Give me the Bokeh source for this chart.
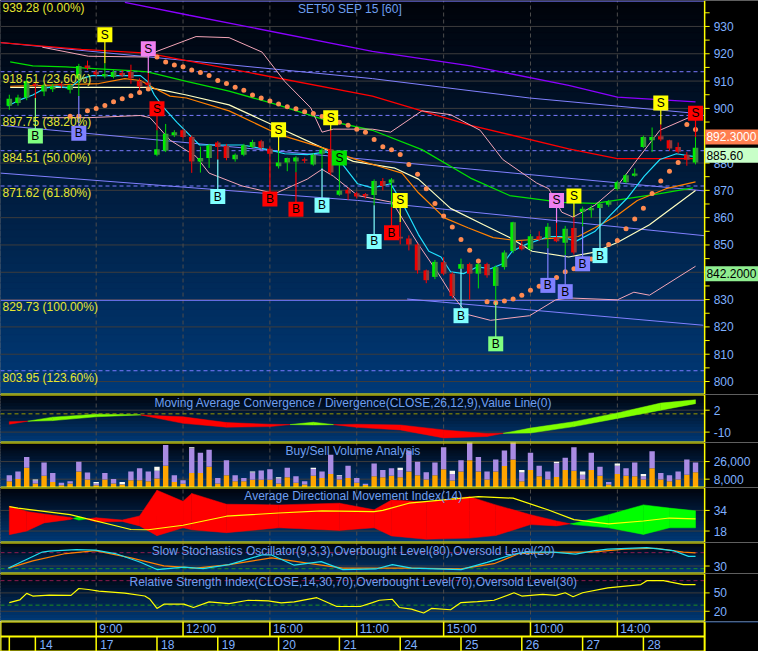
import numpy as np
from bokeh.plotting import figure
from bokeh.layouts import column
from bokeh.models import Range1d
from bokeh.core.properties import value
from bokeh.embed import file_html
from bokeh.resources import INLINE

# ------------------------------------------------------------------ data
bars = list(range(80))
opens = [901.0,902.0,904.0,909.0,906.2,907.0,909.0,906.8,911.0,915.7,
 913.4,911.8,911.5,913.0,913.3,910.0,909.5,883.0,884.5,890.2,
 892.0,889.5,880.6,881.8,887.5,886.2,881.4,883.0,885.9,888.0,
 885.2,878.8,880.2,880.6,881.4,879.5,883.4,885.0,868.4,870.2,
 868.9,868.7,868.3,873.4,872.8,853.0,852.4,850.2,840.7,838.3,
 843.7,839.5,841.3,843.0,839.5,843.0,835.0,841.9,847.8,849.8,
 848.4,853.2,852.6,852.8,850.8,856.2,862.1,862.7,863.5,864.7,
 870.5,873.0,875.3,885.9,888.3,889.8,888.3,885.9,883.0,880.2]
highs = [905.0,905.0,911.0,909.5,909.0,909.0,909.5,909.0,916.3,917.5,
 914.0,916.5,914.0,914.0,916.0,911.0,913.0,892.0,894.3,892.0,
 892.5,890.0,886.0,887.0,888.0,887.0,883.5,887.0,888.5,888.5,
 886.0,884.5,882.0,882.5,882.0,883.5,885.5,892.0,873.4,871.0,
 869.5,869.0,874.0,874.5,874.5,858.4,853.5,850.5,841.0,844.5,
 845.5,840.0,845.0,843.5,843.5,843.5,842.5,848.0,858.5,851.5,
 854.0,855.0,858.0,858.1,857.0,860.2,864.0,864.5,865.5,866.5,
 873.5,876.0,878.0,890.0,893.0,894.1,888.5,887.5,884.0,889.5]
lows = [899.5,901.0,903.0,903.8,904.5,906.0,907.5,905.5,904.5,914.0,
 911.8,911.0,911.0,911.5,909.0,905.0,907.0,882.5,884.0,889.5,
 889.0,876.4,876.5,878.2,881.3,881.0,880.5,882.5,885.5,885.0,
 880.9,878.0,877.0,876.6,880.0,879.0,878.1,875.5,868.0,866.5,
 867.0,867.0,864.5,870.0,863.8,850.2,848.0,839.5,836.0,837.5,
 839.0,830.5,841.3,830.0,834.1,838.0,829.0,841.0,847.0,848.0,
 848.0,851.5,848.8,851.0,846.3,846.5,856.8,860.0,863.4,864.0,
 870.0,872.5,875.0,885.5,884.0,888.0,884.5,883.5,879.0,879.5]
closes = [903.5,904.0,910.0,908.3,908.5,908.0,908.4,908.5,915.5,914.8,
 912.4,912.6,913.3,912.0,911.0,908.0,908.5,885.0,890.7,891.3,
 889.5,880.6,881.8,886.5,885.9,881.8,883.0,886.5,887.7,885.6,
 883.4,880.2,881.8,882.0,880.8,883.0,884.9,876.5,869.9,868.8,
 867.7,867.8,873.4,871.6,874.0,852.4,850.2,840.7,837.1,843.8,
 839.5,831.3,843.0,839.5,843.0,838.9,841.9,847.2,858.3,848.4,
 853.2,852.0,856.7,851.4,855.9,847.2,863.3,863.5,865.1,865.9,
 873.0,875.5,876.2,889.5,889.5,888.6,885.3,884.1,881.2,885.6]

# overlay lines (bar position, price)
purple_idx = [13.3, 20.7, 41.8, 53.1, 64.4, 70.0, 79.0]
purple_val = [938.8, 934.1, 920.9, 915.6, 908.4, 904.1, 902.4]
red_idx = [-1.0, 8.3, 15.9, 41.8, 53.1, 64.4, 70.0, 79.0]
red_val = [924.1, 921.6, 920.2, 904.5, 893.8, 885.2, 881.6, 881.6]
chan1_idx = [-1.0, 41.8, 59.9, 79.3]
chan1_val = [924.1, 910.9, 903.8, 898.1]
chan2_idx = [-1.0, 80.0]
chan2_val = [893.8, 869.8]
chan3_idx = [-1.0, 40.1, 80.0]
chan3_val = [876.3, 866.3, 853.4]
chan4_idx = [45.8, 79.9]
chan4_val = [830.2, 820.6]
bb_up_idx = [3.8, 9.1, 15.9, 17.0, 21.5, 25.3, 29.1, 31.7, 34.7, 36.0, 37.3, 41.8, 43.9, 47.5,
             50.8, 54.2, 56.8, 60.7, 62.1, 63.6, 64.9, 67.4, 70.0, 72.3, 74.9, 79.0]
bb_up_val = [922.4, 919.1, 918.8, 920.9, 926.3, 925.9, 920.6, 909.9, 900.2, 891.3, 892.4, 892.4, 891.3, 899.1,
             897.7, 892.0, 881.3, 872.7, 870.6, 862.0, 860.2, 864.5, 871.6, 881.3, 892.0, 897.7]
bb_lo_idx = [3.8, 9.1, 15.1, 16.2, 18.5, 21.5, 23.0, 26.8, 30.6, 34.3, 36.0, 37.3, 40.1, 44.1, 47.1,
             49.4, 50.8, 52.8, 55.4, 59.9, 62.9, 64.4, 70.0, 71.9, 73.7, 79.0]
bb_lo_val = [896.6, 896.6, 897.4, 896.6, 888.4, 882.4, 876.3, 871.6, 868.8, 874.1, 877.7, 875.2, 868.1, 865.6, 850.2,
             839.5, 832.4, 824.5, 822.4, 824.1, 829.9, 830.6, 829.9, 832.7, 831.6, 842.2]
cyan_idx = [-0.2, 1.2, 2.7, 4.1, 5.4, 6.9, 8.3, 9.5, 12.2, 15.1, 15.9, 16.7, 17.8, 19.3, 21.0, 21.9, 26.8,
            29.8, 31.7, 34.3, 36.5, 38.1, 40.1, 41.8, 43.9, 45.2, 47.1, 48.3, 49.7, 50.8, 52.3, 53.9, 55.4,
            56.8, 57.9, 59.5, 62.1, 63.6, 65.2, 67.4, 69.2, 71.1, 73.1, 74.9, 76.8, 78.7]
cyan_val = [900.9, 903.1, 904.9, 907.4, 908.1, 907.4, 910.9, 912.0, 912.0, 912.0, 909.9, 904.9, 900.2, 894.9, 889.5, 886.6, 886.6,
            884.9, 883.4, 883.1, 884.1, 880.6, 872.4, 870.9, 872.4, 865.6, 853.8, 847.7, 845.6, 840.2, 839.5, 842.0, 841.3,
            843.1, 847.7, 850.2, 853.1, 853.1, 851.3, 854.9, 860.9, 867.0, 875.2, 881.3, 883.4, 882.4]
orange_idx = [0.1, 3.8, 10.3, 13.3, 15.1, 16.7, 18.5, 20.4, 25.3, 30.9, 36.5, 39.6, 43.3, 45.2, 47.1, 50.1,
              52.8, 55.7, 58.4, 60.4, 63.6, 65.5, 67.4, 70.0, 72.3, 75.6, 79.0]
orange_val = [908.1, 908.4, 909.1, 910.9, 910.2, 907.4, 904.5, 903.8, 899.1, 890.6, 885.2, 881.6, 878.1, 876.3, 869.1, 859.9,
              856.3, 852.7, 851.6, 852.0, 852.7, 853.1, 856.3, 860.9, 866.3, 870.6, 873.1]
pale_idx = [0.1, 15.9, 17.8, 20.4, 25.3, 30.9, 36.5, 39.6, 44.4, 47.1, 50.8, 54.6, 57.6, 60.2, 64.4, 67.4, 70.0, 73.7, 79.0]
pale_val = [907.7, 907.7, 906.6, 904.9, 901.3, 893.1, 884.9, 880.6, 878.1, 874.1, 863.4, 857.4, 852.7, 847.7, 845.6, 847.4,
            850.9, 857.4, 869.9]
green_idx = [0.1, 2.7, 6.5, 10.3, 14.0, 15.9, 20.4, 25.3, 30.9, 36.5, 41.8, 47.5, 53.1, 57.6, 63.6, 67.4, 71.1, 74.9, 78.7]
green_val = [917.0, 915.6, 915.2, 914.5, 913.8, 913.4, 909.9, 906.3, 901.3, 895.6, 892.0, 884.9, 874.5, 868.1, 865.6, 865.2,
             867.0, 868.8, 870.9]

sar_idx = list(range(7, 80))
sar_val = [897.1, 897.1, 899.1, 900.0, 901.1, 902.4, 903.5, 904.6, 905.8, 907.1,
           918.8, 917.0, 915.9, 915.2, 914.1, 913.1, 912.0, 910.2, 909.1, 907.7,
           906.6, 904.9, 903.8, 902.7, 901.6, 900.6, 899.9, 898.8, 898.1, 897.0,
           896.3, 894.9, 893.8, 892.4, 891.3, 888.6, 886.0, 884.9, 883.1, 879.5,
           875.9, 870.6, 865.2, 860.6, 856.6, 852.0, 848.1, 844.1, 829.2, 828.8,
           829.5, 830.2, 831.6, 833.4, 834.9, 836.6, 838.1, 840.2, 841.3, 842.7,
           844.9, 847.4, 850.2, 851.6, 855.9, 859.5, 863.4, 868.8, 873.4, 877.0,
           880.2, 894.1, 892.3]

# buy / sell signals
sig_bar = [11, 16, 17, 31, 37, 38, 45, 63, 65, 75, 79, 3, 8, 24, 30, 33, 36, 42, 44, 52, 56, 62, 64, 66, 68]
sig_text = ["S"] * 11 + ["B"] * 14
sig_level = [927.0, 921.8, 899.9, 892.2, 896.6, 881.8, 866.3, 866.3, 867.9, 902.0, 898.25,
             889.9, 890.9, 867.7, 866.8, 863.1, 864.5, 851.3, 854.5, 824.1, 813.8, 835.2, 832.9, 843.1, 846.1]
sig_group = ["yel", "pnk", "red", "yel", "yel", "grn", "yel", "pnk", "yel", "yel", "red",
             "lgr", "lav", "cyn", "red", "red", "cyn", "cyn", "red", "cyn", "lgr", "lav", "lav", "lav", "cyn"]

fib_level = [939.28, 913.43, 897.43, 884.51, 871.58, 829.73, 803.95]
fib_label = ["939.28 (0.00%)", "918.51 (23.60%)", "897.75 (38.20%)", "884.51 (50.00%)",
             "871.62 (61.80%)", "829.73 (100.00%)", "803.95 (123.60%)"]

price_ticks = list(range(800, 931, 10))
price_minor = list(range(795, 940, 5))
price_tags = [892.3, 885.6, 842.2]
price_tag_text = ["892.3000", "885.60", "842.2000"]

# volume (thousands)
vol_total = [11.9,15.8,30.7,7.6,25.1,14.2,4.3,5.9,25.7,14.9, 5.0,14.2,8.3,5.0,15.8,19.1,15.8,20.8,42.9,11.9,
             6.9,40.6,35.0,38.0,9.2,27.4,11.9,9.2,15.8,16.8, 18.2,9.9,19.8,10.9,5.9,19.8,15.8,33.0,11.9,21.8,
             9.2,3.3,24.1,17.5,19.1,19.8,37.3,25.7,15.2,25.1, 40.6,16.5,27.4,54.8,30.7,15.8,28.1,37.3,47.9,17.5,
             35.0,21.8,15.8,25.7,30.0,40.6,15.8,35.0,20.8,5.0, 24.1,19.1,25.1,13.2,36.6,14.2,11.9,15.8,28.1,25.1]
vol_buy = [5.9,8.3,19.8,3.6,11.6,5.0,1.7,3.6,15.8,7.6, 1.7,7.6,3.6,2.6,6.9,6.9,5.9,8.6,21.8,5.0,
           3.3,14.2,14.2,20.8,3.6,11.9,5.9,5.9,7.3,7.3, 7.3,3.6,9.9,4.3,2.6,11.6,9.2,13.2,7.6,9.2,
           4.3,2.0,10.9,9.9,11.6,9.9,15.8,11.9,7.6,11.9, 18.2,6.6,15.8,27.4,15.8,7.6,15.8,21.5,28.1,5.9,
           17.5,10.9,7.6,10.2,17.5,16.5,7.6,17.5,11.6,2.6, 13.2,11.6,10.9,7.6,19.1,7.6,5.9,7.6,12.5,15.2]
vol_neutral = [0,0,0,1.0,0,0,0,0,0,0, 1.3,0,0,2.3,0,0,0,4.3,0,0, 0,1.0,0,0,0,0,0,0,1.0,0,
               0,1.3,0,0,0,1.3,0,0,1.0,0, 0,0,0,0,0,2.3,0,0,0,0, 0,3.3,0,0,0,0,0,0,0,2.6,
               0,0,0,1.3,0,0,3.3,0,0,0, 2.3,0,0,2.3,0,0,0,0,0,0]
vol_ticks = [8, 26]
vol_tick_text = ["8,000", "26,000"]

macd_idx = [0, 5, 10, 15, 20, 25, 30, 35, 40, 45, 50, 55, 60, 65, 70, 75, 79]
macd_val = [-5.7, -1.8, -0.2, -0.5, -5.2, -7.3, -7.0, -4.6, -7.4, -8.8, -13.2, -12.4, -7.8, -4.3, 0.5, 5.9, 7.7]
signal_val = [-4.3, -3.7, -1.6, -0.6, -1.6, -4.8, -5.7, -6.1, -5.7, -6.1, -8.8, -10.8, -10.5, -7.0, -2.5, 2.0, 5.6]
macd_ticks = [-10, 2]

dmi_idx = [0, 2, 4, 7, 8, 10, 13, 15, 17, 20, 21, 25, 31, 38, 42, 44, 48, 53, 56, 60, 63, 65, 69, 73, 76, 79]
minus_di = [37.3, 33.2, 31.2, 28.5, 26.5, 28.3, 26.5, 29.7, 49.7, 41.1, 47.2, 38.8, 38.3, 39.6, 34.5, 42.1, 40.5,
            44.7, 38.3, 30.7, 25.8, 23.0, 20.5, 15.4, 20.5, 20.5]
plus_di = [15.2, 18.0, 24.3, 27.0, 29.0, 25.0, 25.5, 22.0, 14.4, 20.5, 19.0, 16.7, 20.5, 18.5, 20.5, 14.2, 11.6,
           12.5, 14.5, 23.0, 22.0, 24.0, 30.7, 38.3, 35.8, 33.7]
adx_idx = [0, 1, 7, 14, 16, 20, 25, 31, 36, 42, 43, 46, 54, 58, 62, 65, 69, 73, 76, 79]
adx_val = [37.0, 35.8, 30.7, 19.2, 19.0, 22.5, 29.5, 32.0, 33.7, 33.0, 34.0, 39.6, 44.7, 43.5, 34.5, 26.9, 23.6,
           25.8, 28.1, 27.5]
adx_ticks = [18, 34]

stk_idx = [-0.1, 3.8, 4.6, 7.7, 9.9, 12.2, 15.1, 17.0, 20.1, 22.3, 25.3, 29.1, 30.2, 32.8, 35.9, 38.4, 42.2, 44.1,
           46.3, 52.0, 55.0, 58.4, 59.5, 62.6, 65.2, 67.4, 68.9, 73.4, 76.4, 78.2, 79.0]
stk_val = [22.3, 82.3, 85.6, 91.1, 89.8, 76.7, 43.9, 16.7, 25.6, 20.0, 35.4, 71.5, 71.5, 33.1, 46.2, 16.7, 19.0, 35.4,
           22.3, 16.7, 43.9, 76.7, 82.3, 82.3, 74.8, 87.9, 93.1, 98.7, 87.9, 65.9, 65.9]
std_idx = [-0.1, 2.7, 6.5, 9.9, 14.0, 17.8, 21.5, 25.3, 30.2, 34.7, 38.4, 42.2, 46.3, 52.0, 55.8, 58.7, 63.7, 67.1,
           70.8, 74.5, 77.6, 79.0]
std_val = [22.3, 49.5, 76.7, 87.9, 60.3, 30.8, 22.3, 35.4, 60.3, 38.7, 22.3, 22.3, 22.3, 19.0, 38.7, 76.7, 82.3, 82.3,
           93.1, 96.4, 82.3, 79.0]
stoch_ticks = [30]

rsi_idx = [0, 1.2, 2.0, 2.7, 4.6, 7.1, 8.0, 9.1, 10.3, 13.3, 15.6, 16.2, 17.0, 17.8, 20.1, 21.2, 23.0, 25.3, 27.5,
           29.8, 31.3, 32.8, 35.4, 37.7, 40.4, 41.8, 42.6, 44.1, 44.9, 46.3, 47.7, 48.6, 50.8, 52.0, 53.9, 55.8,
           58.1, 59.0, 61.4, 62.9, 64.0, 64.9, 66.0, 68.9, 72.7, 73.4, 75.3, 77.6, 79.0]
rsi_val = [34.2, 38.5, 49.2, 44.9, 46.5, 46.0, 57.2, 55.6, 52.9, 49.7, 44.9, 39.6, 24.6, 31.6, 31.6, 26.2, 35.3, 32.6,
           38.0, 36.9, 33.7, 35.3, 42.2, 27.8, 27.8, 34.2, 38.0, 39.6, 26.2, 23.6, 17.2, 24.6, 22.5, 34.2, 35.8, 38.0,
           50.2, 44.9, 47.6, 46.0, 50.2, 43.8, 50.2, 58.2, 63.6, 70.0, 70.0, 63.6, 63.6]
rsi_ticks = [20, 50]

time_labels = ["9:00", "12:00", "16:00", "11:00", "15:00", "10:00", "14:00"]
time_bars = [10, 20, 30, 40, 50, 60, 70]
day_labels = ["", "14", "17", "18", "19", "20", "21", "24", "25", "26", "27", "28"]
day_bars = [0, 3, 10, 17, 24, 31, 38, 45, 52, 59, 66, 73]

# ------------------------------------------------------------------ layout / style
W = 758
FONT = "Liberation Sans"
TXT = "#7fb0ff"
TITLE = "#6e9ff0"
YEL = "#ffff00"
X0, XA, XE = -1.015, 80.05, 86.25        # left edge, right-axis line, right edge (bar units)
XR = Range1d(X0, XE)
PXU = W / (XE - X0)                       # pixels per bar unit
SIG_COLORS = {"yel": "#ffff00", "pnk": "#f080f0", "red": "#ff0000", "grn": "#00e000",
              "lgr": "#80ff80", "lav": "#8080ff", "cyn": "#80ffff"}


def make_fig(h, y0, y1):
    p = figure(width=W, height=h, x_range=XR, y_range=Range1d(y0, y1), output_backend="svg",
               toolbar_location=None, x_axis_location=None, y_axis_location=None,
               min_border_left=0, min_border_right=0, min_border_top=0, min_border_bottom=0,
               background_fill_color="black", border_fill_color="black", outline_line_color=None)
    p.grid.visible = False
    return p


def dpx(p, px):
    return px * (p.y_range.end - p.y_range.start) / p.height


def gradient(p, n):
    y0, y1 = p.y_range.start, p.y_range.end
    edges = np.linspace(y1, y0, n + 1)
    cols = []
    for k in range(n):
        t = (k + 0.5) / n
        cols.append("#%02x%02x%02x" % (0, int(3 + 55 * t), int(10 + 110 * t)))
    p.quad(left=X0, right=XA, top=list(edges[:-1]), bottom=list(edges[1:]),
           fill_color=cols, line_color=cols)


def grid(p, yticks):
    n = len(yticks)
    if n:
        p.segment(x0=[X0] * n, y0=yticks, x1=[XA] * n, y1=yticks, line_color="#3c3c3c", line_width=1)
    m = len(time_bars)
    p.segment(x0=time_bars, y0=[p.y_range.start] * m, x1=time_bars, y1=[p.y_range.end] * m,
              line_color="#4c4c4c", line_width=1, line_dash="4 3")


def right_axis(p, ticks, labels, minor=None):
    y0, y1 = p.y_range.start, p.y_range.end
    p.quad(left=XA, right=XE, top=y1, bottom=y0, fill_color="black", line_color=None)
    p.segment(x0=[XA], y0=[y0], x1=[XA], y1=[y1], line_color=YEL, line_width=1.5)
    tl = 5 / PXU
    allt = sorted(set(list(ticks) + list(minor or [])))
    allt = [t for t in allt if y0 < t < y1]
    p.segment(x0=[XA] * len(allt), y0=allt, x1=[XA + tl] * len(allt), y1=allt, line_color=YEL, line_width=1)
    p.text(x=[XA + 9 / PXU] * len(ticks), y=ticks, text=labels, text_font=value(FONT),
           text_font_size="12px", text_color=TXT, text_align="left", text_baseline="middle")


def title(p, text, frac):
    r = p.y_range
    p.text(x=[39.6], y=[r.end - frac * (r.end - r.start)], text=[text], text_font=value(FONT),
           text_font_size="12px", text_color=TITLE, text_align="center", text_baseline="middle")


def separators(p, top=True, bottom=True):
    if top:
        p.line([X0, XA], [p.y_range.end] * 2, line_color=YEL, line_width=2)
    if bottom:
        p.line([X0, XA], [p.y_range.start] * 2, line_color=YEL, line_width=2)


def level(p, y, color):
    p.line([X0, XA], [y, y], line_color=color, line_width=1, line_dash="4 3")


def band(p, xs, a, b, cpos, cneg):
    pxs, pys, cols = [], [], []
    for k in range(len(xs) - 1):
        x0, x1 = xs[k], xs[k + 1]
        d0, d1 = a[k] - b[k], a[k + 1] - b[k + 1]
        if d0 * d1 < 0:
            t = d0 / (d0 - d1)
            xm = x0 + t * (x1 - x0)
            ym = a[k] + t * (a[k + 1] - a[k])
            pxs += [[x0, xm, x0], [xm, x1, x1]]
            pys += [[a[k], ym, b[k]], [ym, a[k + 1], b[k + 1]]]
            cols += [cpos if d0 > 0 else cneg, cpos if d1 > 0 else cneg]
        else:
            pxs.append([x0, x1, x1, x0])
            pys.append([a[k], a[k + 1], b[k + 1], b[k]])
            cols.append(cpos if (d0 + d1) > 0 else cneg)
    p.patches(pxs, pys, fill_color=cols, line_color=cols, line_width=0.5)


# ------------------------------------------------------------------ main price panel
pm = make_fig(394, 795.25, 939.5)
gradient(pm, 60)
grid(pm, price_ticks)

for lv in fib_level:
    solid = abs(lv - fib_level[0]) < 0.01 or abs(lv - 829.73) < 0.01
    pm.line([X0, XA], [lv, lv], line_color="#7a7aff", line_width=1,
            line_dash="solid" if solid else "4 3")

pm.line(chan1_idx, chan1_val, line_color="#8080ff", line_width=1)
pm.line(chan2_idx, chan2_val, line_color="#8080ff", line_width=1)
pm.line(chan3_idx, chan3_val, line_color="#8080ff", line_width=1)
pm.line(chan4_idx, chan4_val, line_color="#8080ff", line_width=1)
pm.line(purple_idx, purple_val, line_color="#8a00ff", line_width=1.3)
pm.line(red_idx, red_val, line_color="#ff0000", line_width=1.3)
pm.line(green_idx, green_val, line_color="#00e000", line_width=1.3)
pm.line(bb_up_idx, bb_up_val, line_color="#f4a6b8", line_width=1)
pm.line(bb_lo_idx, bb_lo_val, line_color="#f4a6b8", line_width=1)
pm.line(pale_idx, pale_val, line_color="#ffffc0", line_width=1.2)
pm.line(orange_idx, orange_val, line_color="#ff8000", line_width=1.2)
pm.line(cyan_idx, cyan_val, line_color="#20e0ff", line_width=1.2)

o = np.array(opens); c = np.array(closes); hi = np.array(highs); lo = np.array(lows)
xb = np.array(bars, dtype=float)
up = c >= o
top = np.maximum(o, c)
bot = np.minimum(o, c)
bot = np.where(top - bot < 0.4, top - 0.4, bot)
pm.segment(x0=list(xb), y0=list(lo), x1=list(xb), y1=list(hi),
           line_color=["#00e000" if u else "#ff0000" for u in up], line_width=1)
pm.vbar(x=list(xb - 0.16), width=0.32, top=list(top), bottom=list(bot),
        fill_color=["#00f000" if u else "#f00000" for u in up], line_color=None)
pm.vbar(x=list(xb + 0.16), width=0.32, top=list(top), bottom=list(bot),
        fill_color=["#3f8a3f" if u else "#8a3f3f" for u in up], line_color=None)

pm.scatter(x=sar_idx, y=sar_val, size=5, marker="circle", fill_color="#ff8a50", line_color=None)

sig_cols = [SIG_COLORS[g] for g in sig_group]
tip = [highs[b] if t == "S" else lows[b] for b, t in zip(sig_bar, sig_text)]
pm.segment(x0=sig_bar, y0=sig_level, x1=sig_bar, y1=tip, line_color=sig_cols, line_width=1.2)
pm.rect(x=sig_bar, y=sig_level, width=15, height=15, width_units="screen", height_units="screen",
        fill_color=sig_cols, line_color=None)
pm.text(x=sig_bar, y=sig_level, text=sig_text, text_font=value(FONT), text_font_size="12px",
        text_color="#000000", text_align="center", text_baseline="middle")

pm.text(x=[X0] * len(fib_level), y=fib_level, text=fib_label, x_offset=2, text_font=value(FONT),
        text_font_size="12px", text_color="#e6e632", text_align="left", text_baseline="top")
title(pm, "SET50 SEP 15   [60]", 9 / 404)
separators(pm, top=False, bottom=True)
right_axis(pm, price_ticks, [str(t) for t in price_ticks], minor=price_minor)

bh = dpx(pm, 15)
pm.quad(left=[XA + 0.06] * 3, right=[XE] * 3, top=price_tags, bottom=[v - bh for v in price_tags],
        fill_color=["#ff7f50", "#c8ffc8", "#90ee90"], line_color=None)
pm.text(x=[XA + 0.2] * 3, y=[v - bh / 2 for v in price_tags], text=price_tag_text, text_font=value(FONT),
        text_font_size="12px", text_color=["#ffffff", "#000000", "#000000"], text_align="left",
        text_baseline="middle")

# ------------------------------------------------------------------ MACD
pmacd = make_fig(48, -15.7, 10.6)
gradient(pmacd, 16)
grid(pmacd, macd_ticks)
level(pmacd, 0, "#9a9a00")
band(pmacd, macd_idx, macd_val, signal_val, "#80ff00", "#ff0000")
title(pmacd, "Moving Average Convergence / Divergence(CLOSE,26,12,9),Value Line(0)", 9 / 49)
separators(pmacd)
right_axis(pmacd, macd_ticks, [str(t) for t in macd_ticks])

# ------------------------------------------------------------------ Volume
pv = make_fig(45, -0.5, 45.5)
gradient(pv, 16)
grid(pv, vol_ticks)
vb = np.array(vol_buy); vt = np.array(vol_total); vn = np.array(vol_neutral)
vs = vt - vb - vn
pv.vbar(x=bars, width=0.62, bottom=0, top=list(vb), fill_color="#ffa500", line_color=None)
pv.vbar(x=bars, width=0.62, bottom=list(vb), top=list(vb + vs), fill_color="#a98be3", line_color=None)
pv.vbar(x=bars, width=0.62, bottom=list(vb + vs), top=list(vt), fill_color="#f8f8f0", line_color=None)
title(pv, "Buy/Sell Volume Analysis", 8.7 / 46)
separators(pv)
right_axis(pv, vol_ticks, vol_tick_text)

# ------------------------------------------------------------------ ADX
pa = make_fig(55, 9.1, 51.8)
gradient(pa, 18)
grid(pa, adx_ticks)
band(pa, dmi_idx, plus_di, minus_di, "#00ff00", "#ff0000")
pa.line(adx_idx, adx_val, line_color="#ffff00", line_width=1.2)
title(pa, "Average Directional Movement Index(14)", 8.7 / 56)
separators(pa)
right_axis(pa, adx_ticks, [str(t) for t in adx_ticks])

# ------------------------------------------------------------------ Stochastics
ps = make_fig(31, 2.0, 118.0)
gradient(ps, 12)
grid(ps, stoch_ticks)
level(ps, 80, "#8b1c50")
level(ps, 20, "#1f8f1f")
ps.line(std_idx, std_val, line_color="#ff8000", line_width=1.2)
ps.line(stk_idx, stk_val, line_color="#20e0f0", line_width=1.2)
title(ps, "Slow Stochastics Oscillator(9,3,3),Overbought Level(80),Oversold Level(20)", 9 / 32)
separators(ps)
right_axis(ps, stoch_ticks, [str(t) for t in stoch_ticks])

# ------------------------------------------------------------------ RSI
pr = make_fig(48, 3.3, 81.7)
gradient(pr, 16)
grid(pr, rsi_ticks)
level(pr, 70, "#8b1c50")
level(pr, 30, "#1f8f1f")
pr.line(rsi_idx, rsi_val, line_color="#ffff00", line_width=1.2)
title(pr, "Relative Strength Index(CLOSE,14,30,70),Overbought Level(70),Oversold Level(30)", 8.7 / 49)
separators(pr)
right_axis(pr, rsi_ticks, [str(t) for t in rsi_ticks])

# ------------------------------------------------------------------ time axis
pt = make_fig(30, 0, 2)
for yy in (0, 1, 2):
    pt.line([X0, XA], [yy, yy], line_color=YEL, line_width=2)
pt.line([XA, XE], [2, 2], line_color="#1e4a8c", line_width=2)
pt.segment(x0=[X0, XA], y0=[0, 0], x1=[X0, XA], y1=[2, 2], line_color=YEL, line_width=2)
pt.segment(x0=time_bars, y0=[1] * len(time_bars), x1=time_bars, y1=[2] * len(time_bars),
           line_color=YEL, line_width=1.5)
pt.segment(x0=day_bars, y0=[0] * len(day_bars), x1=day_bars, y1=[1] * len(day_bars),
           line_color=YEL, line_width=1.5)
pt.text(x=time_bars, y=[1.5] * len(time_bars), text=time_labels, x_offset=3, text_font=value(FONT),
        text_font_size="12px", text_color=TXT, text_align="left", text_baseline="middle")
pt.text(x=day_bars, y=[0.5] * len(day_bars), text=day_labels, x_offset=4, text_font=value(FONT),
        text_font_size="12px", text_color=TXT, text_align="left", text_baseline="middle")

layout = column(pm, pmacd, pv, pa, ps, pr, pt)
open("out.html", "w").write(file_html(layout, INLINE, "SET50 SEP 15"))
